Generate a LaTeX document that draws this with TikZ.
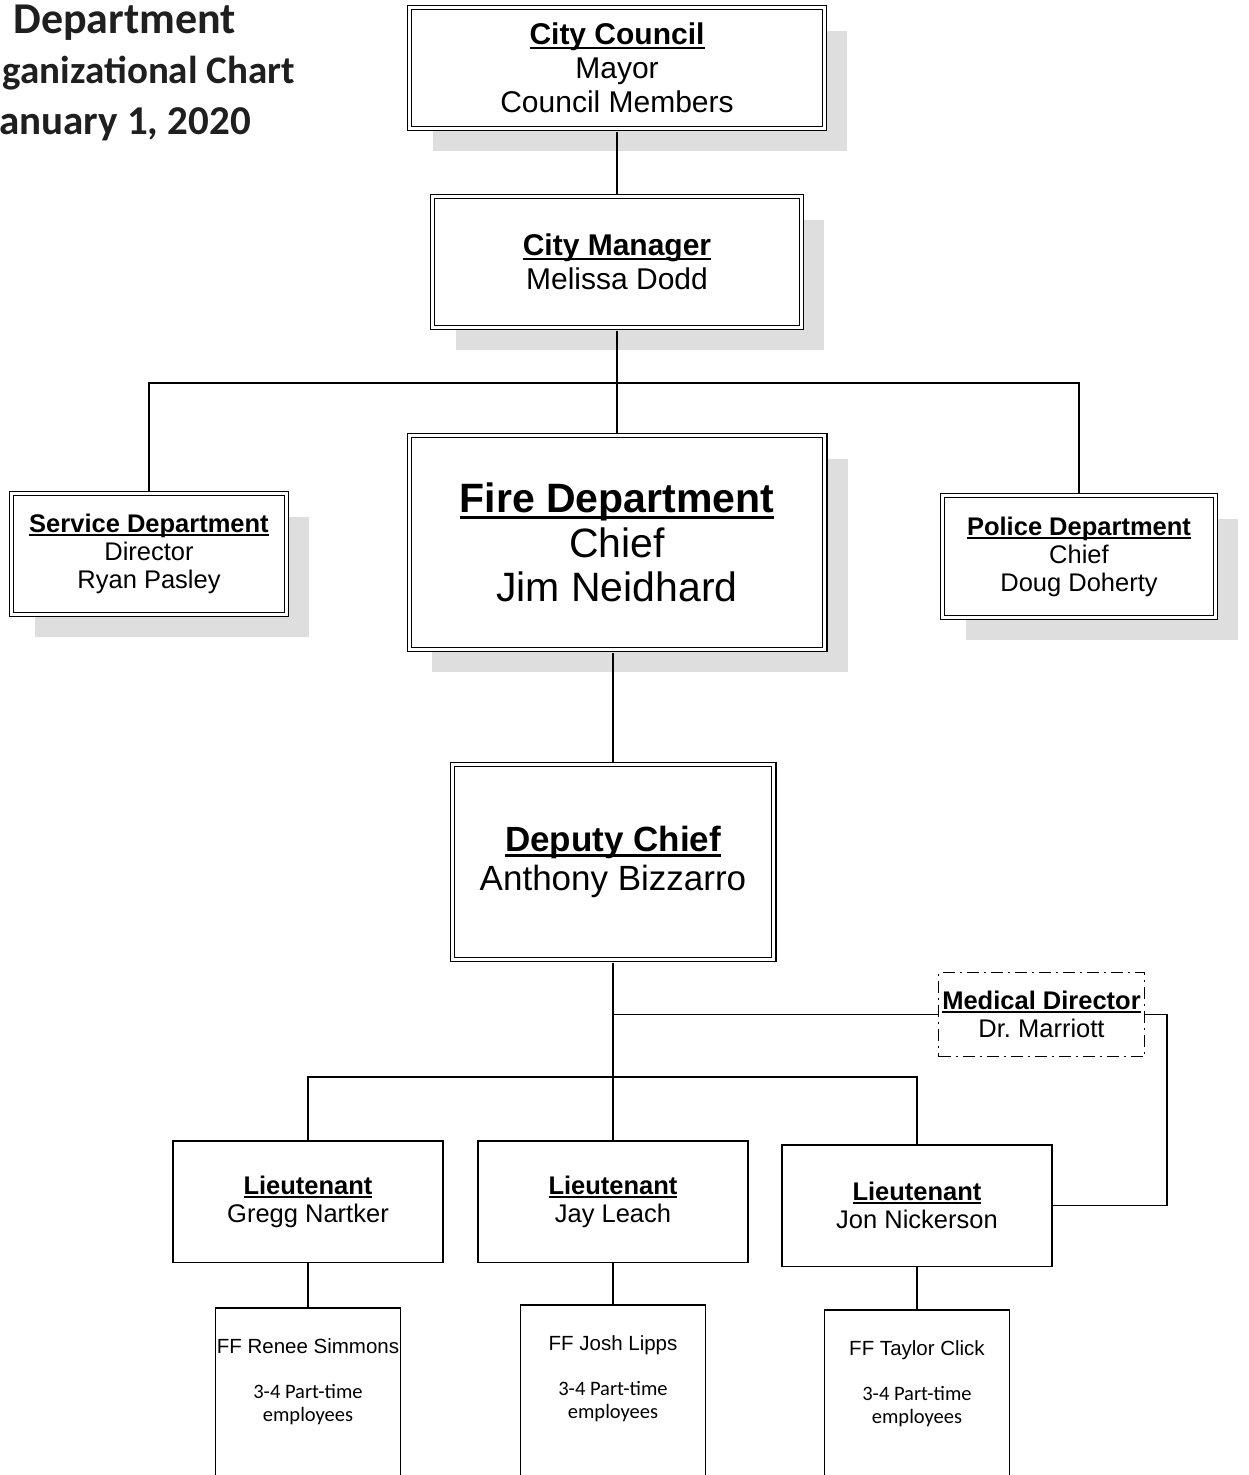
\documentclass[tikz,border=0pt]{standalone}
\usepackage{fontspec}
\setmainfont{Liberation Sans}
\newfontfamily\calibri{Carlito}
\usetikzlibrary{positioning, shadows}
\frenchspacing

\newsavebox{\headbox}
\newcommand{\uhead}[1]{\sbox{\headbox}{\bfseries #1}\rlap{\rule[-0.145em]{\wd\headbox}{0.075em}}\usebox{\headbox}}
\newcommand{\crewtext}[1]{\parbox[c][200pt][t]{184pt}{\centering\vspace*{31pt}#1\par\vspace{22pt}{\calibri 3-4 Part-time\par employees\par}}}

\begin{document}
\begin{tikzpicture}[x=1pt, y=-1pt, node distance=3cm, on grid,
    unit/.style={rectangle, draw, double, double distance=3pt, line width=1.2pt, fill=white, inner sep=0pt, align=center},
    shadowed/.style={drop shadow={shadow xshift=23pt, shadow yshift=-23pt, fill=black!13, opacity=1}},
    lt/.style={rectangle, draw, line width=1.5pt, inner sep=0pt, align=center, minimum width=270pt, minimum height=121.5pt, font=\fontsize{25.5}{28}\selectfont},
    advisor/.style={rectangle, draw, line width=1.3pt, dash pattern=on 12pt off 5pt on 2pt off 5pt, inner sep=0pt, align=center, minimum width=206pt, minimum height=84pt, font=\fontsize{25.5}{28}\selectfont},
    crew/.style={rectangle, draw, line width=1.5pt, inner sep=0pt, anchor=north, minimum width=185pt, font=\fontsize{20.5}{23}\selectfont},
    link/.style={line width=1.3pt},
    dlink/.style={link, shorten >=2.6pt, shorten <=2.6pt},
    heading/.style={anchor=base east, inner sep=0pt, text=black!88, font=\calibri\bfseries\fontsize{39}{50}\selectfont}]

\useasboundingbox (0,0) rectangle (1249,1475);

% title, cut at the left edge
\node[heading, font=\calibri\bfseries\fontsize{44}{50}\selectfont] (head1) at (236,33) {Department};
\node[heading] (head2) at (295,83) {ganizational Chart};
\node[heading, font=\calibri\bfseries\fontsize{41}{50}\selectfont] (head3) at (251,134) {anuary 1, 2020};

% city
\node[unit, shadowed, minimum width=414.6pt, minimum height=120.6pt, font=\fontsize{30}{34}\selectfont] (council) at (617,68) {\uhead{City Council}\\Mayor\\Council Members};
\node[unit, shadowed, minimum width=368.6pt, minimum height=130.6pt, font=\fontsize{30}{34}\selectfont, below=194pt of council] (manager) {\uhead{City Manager}\\Melissa Dodd};

% departments
\node[unit, shadowed, minimum width=415.6pt, minimum height=213.6pt, font=\fontsize{41}{44.5}\selectfont, below=280.5pt of manager] (fire) {\uhead{Fire Department}\\Chief\\Jim Neidhard};
\node[unit, shadowed, minimum width=274.6pt, minimum height=120.6pt, font=\fontsize{25.5}{28}\selectfont, below left=11.5pt and 468pt of fire] (service) {\uhead{Service Department}\\Director\\Ryan Pasley};
\node[unit, shadowed, minimum width=272.6pt, minimum height=121.6pt, font=\fontsize{25.5}{28}\selectfont, below right=14pt and 462pt of fire] (police) {\uhead{Police Department}\\Chief\\Doug Doherty};

% fire department
\node[unit, minimum width=321.6pt, minimum height=194.6pt, font=\fontsize{35}{39}\selectfont, below left=319.5pt and 4pt of fire] (deputy) {\uhead{Deputy Chief}\\Anthony Bizzarro};
\node[advisor, below right=152.5pt and 428.5pt of deputy] (medical) {\uhead{Medical Director}\\Dr. Marriott};
\node[lt, below=339.5pt of deputy] (lt2) {\uhead{Lieutenant}\\Jay Leach};
\node[lt, left=305pt of lt2] (lt1) {\uhead{Lieutenant}\\Gregg Nartker};
\node[lt, below right=4pt and 304pt of lt2] (lt3) {\uhead{Lieutenant}\\Jon Nickerson};

\node[crew] (ff1) at (308,1307) {\crewtext{FF Renee Simmons}};
\node[crew] (ff2) at (613,1304) {\crewtext{FF Josh Lipps}};
\node[crew] (ff3) at (917,1309) {\crewtext{FF Taylor Click}};

\coordinate (topbus) at (617,383);
\coordinate (medbus) at (613,1014.5);
\coordinate (ltbus) at (613,1077);
\coordinate (medlink) at (1167,1205.5);

\draw[dlink] (council) -- (manager);
\draw[dlink] (manager) -- (fire);
\draw[dlink] (service.north) |- (topbus) -| (police.north);
\draw[dlink] (fire.south -| deputy.north) -- (deputy.north);
\draw[link, shorten <=2.6pt] (deputy) -- (lt2);
\draw[link] (medbus) -- (medical.west);
\draw[link] (medical.east) -| (medlink) -- (lt3.east);
\draw[link] (lt1.north) |- (ltbus) -| (lt3.north);
\draw[link] (lt1) -- (ff1);
\draw[link] (lt2) -- (ff2);
\draw[link] (lt3) -- (ff3);

\end{tikzpicture}
\end{document}
